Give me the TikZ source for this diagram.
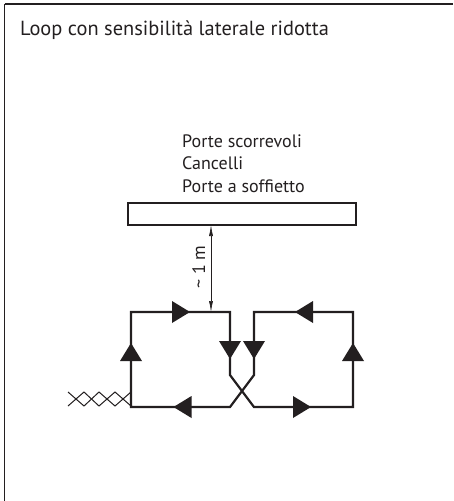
\documentclass[tikz,border=0pt]{standalone}
\usepackage{fontspec}
\setmainfont{PT Sans}
\usetikzlibrary{arrows.meta}
\definecolor{ink}{HTML}{231F20}
\tikzset{
  x=1pt,y=-1pt,
  wire/.style={draw=ink,line width=2.2pt,line join=miter},
  tip/.style={fill=ink,draw=none},
  thin wire/.style={draw=ink,line width=0.7pt},
  twist/.style={draw=ink,line width=1pt},
  label/.style={text=ink,font=\fontsize{18pt}{20pt}\selectfont,inner sep=0pt,anchor=base west},
  frame/.style={draw=ink,line width=1.1pt}
}
\newcommand{\tri}[3]{\fill[tip,shift={(#1,#2)},rotate=#3] (9,0) -- (-9,-11) -- (-9,11) -- cycle;}
\begin{document}
\begin{tikzpicture}
\useasboundingbox (0,0) rectangle (453,501);
\draw[frame] (4.5,4) -- (453,4);
\draw[frame] (4.5,4) -- (4.5,501);
\node[label,font=\fontsize{20.4pt}{24pt}\selectfont] (title) at (20,35) {Loop con sensibilità laterale ridotta};
\node[label] (t1) at (182,147) {Porte scorrevoli};
\node[label] (t2) at (182,169.5) {Cancelli};
\node[label] (t3) at (182,192) {Porte a soffietto};
\node[draw=ink,line width=2.2pt,minimum width=228pt,minimum height=22pt,inner sep=0pt] (bar) at (242,214) {};
\coordinate (gapTop) at (211,225);
\coordinate (gapBot) at (211,312);
\draw[thin wire,{Latex[length=11pt,width=4pt]}-{Latex[length=11pt,width=4pt]}] (gapTop) -- (gapBot);
\node[text=ink,font=\fontsize{18pt}{20pt}\selectfont,rotate=90,inner sep=0pt,anchor=base] (dist) at (205,267) {\textasciitilde\ 1 m};
\coordinate (L1) at (131,407);
\coordinate (L2) at (131,312);
\coordinate (L3) at (230,312);
\coordinate (L4) at (230,375);
\coordinate (L5) at (254,407);
\coordinate (R1) at (353,407);
\coordinate (R2) at (353,312);
\coordinate (R3) at (254,312);
\coordinate (R4) at (254,375);
\coordinate (R5) at (230,407);
\draw[wire] (L5) -- (R1) -- (R2) -- (R3) -- (R4) -- (R5) -- (L1) -- (L2) -- (L3) -- (L4) -- (L5) -- cycle;
\tri{131}{352}{90}
\tri{181}{312}{0}
\tri{230}{350}{-90}
\tri{254}{350}{-90}
\tri{304}{312}{180}
\tri{353}{352}{90}
\tri{302}{407}{0}
\tri{182.5}{407}{180}
\draw[twist] (68,392) -- (84,406) -- (99,392) -- (115,406) -- (131,392);
\draw[twist] (68,406) -- (84,392) -- (99,406) -- (115,392) -- (131,406);
\end{tikzpicture}
\end{document}
